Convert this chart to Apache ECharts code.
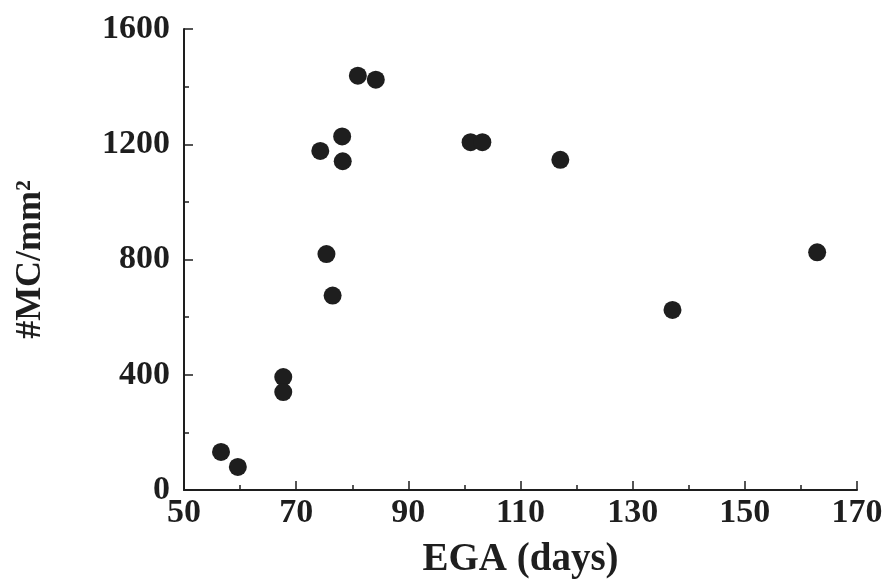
<!DOCTYPE html>
<html>
<head>
<meta charset="utf-8">
<script src="https://cdn.jsdelivr.net/npm/echarts@6/dist/echarts.min.js"></script>
<style>
html,body{margin:0;padding:0;background:#fff;}
#chart{width:887px;height:584px;}
</style>
</head>
<body>
<div id="chart"></div>
<script>
var egaDays = [56.6, 59.6, 67.7, 67.7, 74.3, 75.4, 76.5, 78.2, 78.3, 81.0, 84.2, 101.1, 103.2, 117.1, 137.1, 162.9];
var mcDensity = [132, 80, 392, 340, 1177, 819, 675, 1227, 1141, 1438, 1424, 1207, 1207, 1146, 625, 825];
var xTicks = [50, 70, 90, 110, 130, 150, 170];
var yTicks = [0, 400, 800, 1200, 1600];
var xTitle = 'EGA (days)';
var yTitle = '#MC/mm²';

var points = egaDays.map(function (x, i) { return [x, mcDensity[i]]; });
var ink = '#1e1e1e';
var font = '"Liberation Serif", "Times New Roman", serif';

var chart = echarts.init(document.getElementById('chart'), null, {renderer: 'canvas'});
chart.setOption({
  backgroundColor: '#ffffff',
  animation: false,
  grid: {left: 184, right: 30, top: 29, bottom: 94, containLabel: false, outerBoundsMode: 'none'},
  xAxis: {
    type: 'value',
    min: xTicks[0], max: xTicks[xTicks.length - 1], interval: 20,
    name: xTitle, nameLocation: 'middle', nameGap: 50,
    nameTextStyle: {fontFamily: font, fontSize: 39, fontWeight: 'bold', color: ink},
    axisLine: {show: true, lineStyle: {color: ink, width: 2}},
    axisTick: {show: true, inside: true, length: 9, lineStyle: {color: ink, width: 1.5}},
    minorTick: {show: true, splitNumber: 2, length: 5, lineStyle: {color: ink, width: 1.5}},
    axisLabel: {fontFamily: font, fontSize: 34, fontWeight: 'bold', color: ink, margin: 6, formatter: function (v) { return String(v); }},
    splitLine: {show: false}
  },
  yAxis: {
    type: 'value',
    min: yTicks[0], max: yTicks[yTicks.length - 1], interval: 400,
    name: yTitle, nameLocation: 'middle', nameGap: 135, nameRotate: 90,
    nameTextStyle: {fontFamily: font, fontSize: 36, fontWeight: 'bold', color: ink},
    axisLine: {show: true, lineStyle: {color: ink, width: 2}},
    axisTick: {show: true, inside: true, length: 9, lineStyle: {color: ink, width: 1.5}},
    minorTick: {show: true, splitNumber: 2, length: 5, lineStyle: {color: ink, width: 1.5}},
    axisLabel: {fontFamily: font, fontSize: 34, fontWeight: 'bold', color: ink, margin: 14, formatter: function (v) { return String(v); }},
    splitLine: {show: false}
  },
  series: [{
    type: 'scatter',
    data: points,
    symbol: 'circle',
    symbolSize: 18,
    itemStyle: {color: ink, opacity: 1}
  }]
});
</script>
</body>
</html>
